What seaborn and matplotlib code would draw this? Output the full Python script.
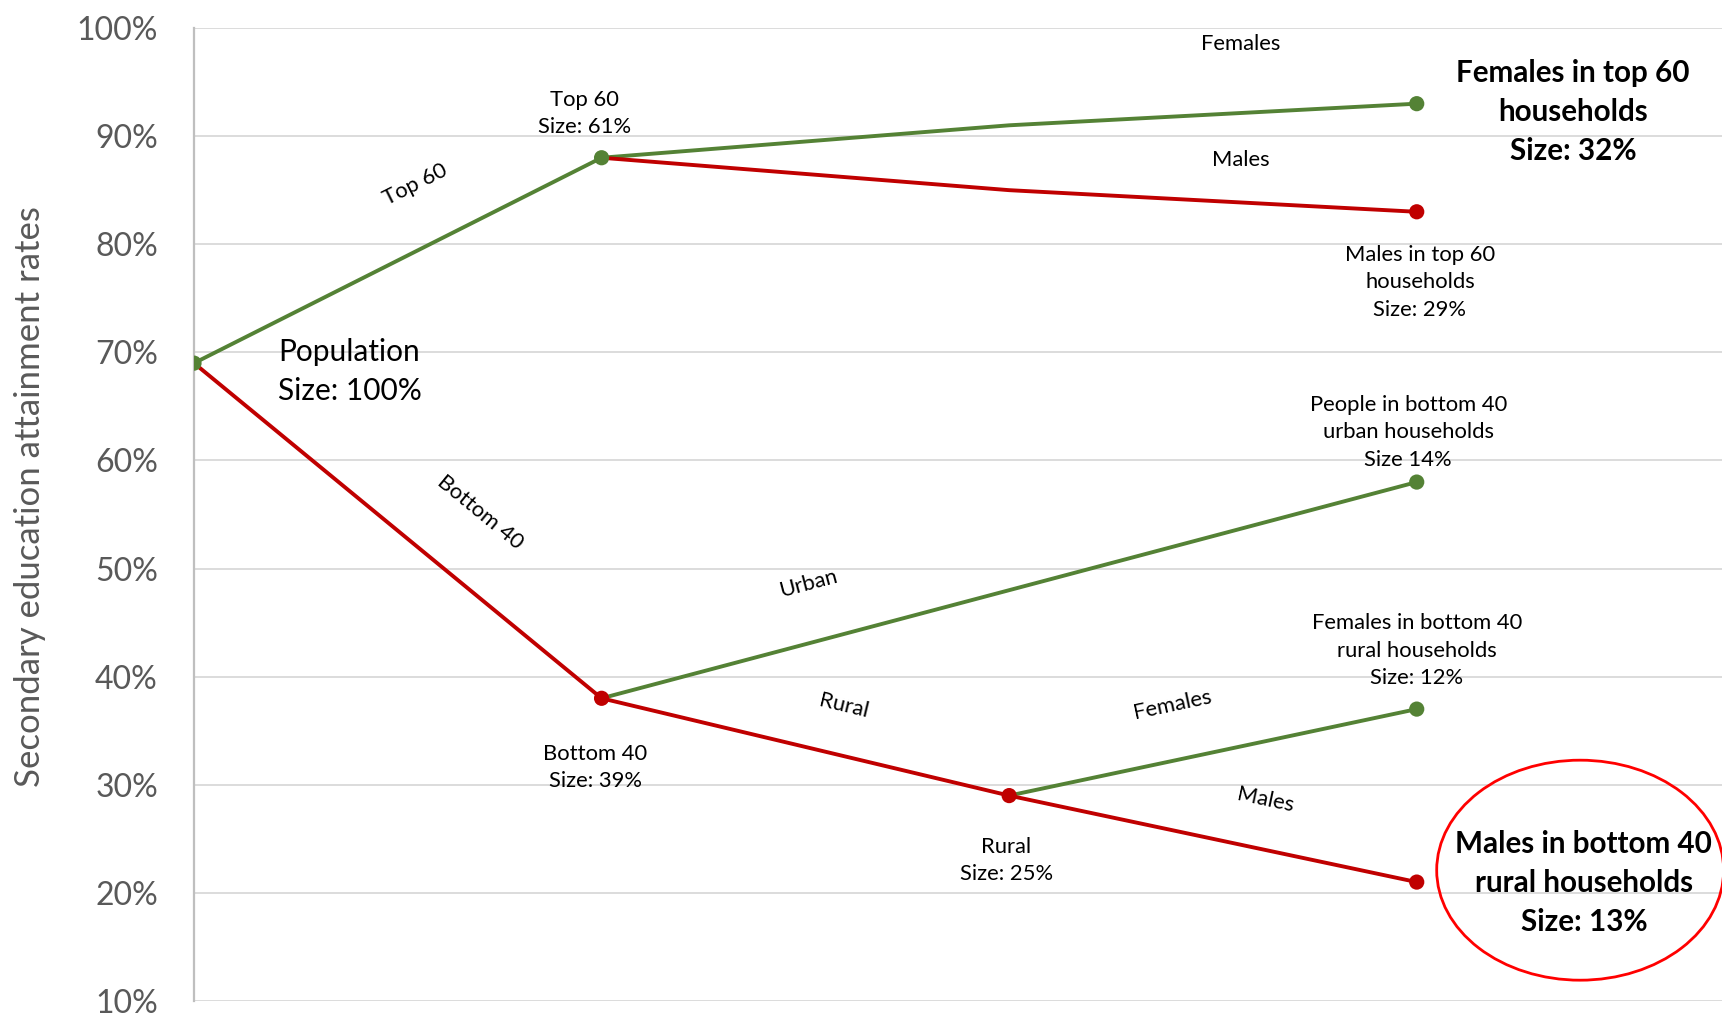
import matplotlib
matplotlib.use("Agg")
import matplotlib.pyplot as plt
from matplotlib.patches import Ellipse
from matplotlib.ticker import PercentFormatter
import numpy as np
import pandas as pd
import seaborn as sns

# Branch segments of the attainment tree (stage on x, rate in % on y)
seg_names = ["Top 60", "Bottom 40", "Top 60 females", "Top 60 males",
             "Bottom 40 urban", "Bottom 40 rural", "Rural females", "Rural males"]
seg_x = [[0, 1], [0, 1], [1, 2, 3], [1, 2, 3], [1, 3], [1, 2], [2, 3], [2, 3]]
seg_y = [[69, 88], [69, 38], [88, 91, 93], [88, 85, 83], [38, 58], [38, 29], [29, 37], [29, 21]]
seg_kind = ["higher", "lower", "higher", "lower", "higher", "lower", "higher", "lower"]

# Tree nodes with markers
node_x = [0, 1, 1, 3, 3, 3, 2, 3, 3]
node_y = [69, 88, 38, 93, 83, 58, 29, 37, 21]
node_kind = ["higher", "higher", "lower", "higher", "lower", "higher", "lower", "higher", "lower"]

y_ticks = [10, 20, 30, 40, 50, 60, 70, 80, 90, 100]

palette = {"higher": "#548235", "lower": "#C00000"}

rows = []
for name, xs, ys, kind in zip(seg_names, seg_x, seg_y, seg_kind):
    for xv, yv in zip(xs, ys):
        rows.append({"segment": name, "stage": xv, "rate": yv, "kind": kind})
lines_df = pd.DataFrame(rows)
nodes_df = pd.DataFrame({"stage": node_x, "rate": node_y, "kind": node_kind})

sns.set_theme(style="white")
plt.rcParams["font.family"] = ["Lato", "DejaVu Sans"]

fig = plt.figure(figsize=(17.22, 10.13), dpi=100)
ax = fig.add_axes([194 / 1722, 12 / 1013, 1 - 194 / 1722, (1001 - 28) / 1013])

sns.lineplot(data=lines_df, x="stage", y="rate", hue="kind", units="segment",
             estimator=None, sort=False, palette=palette, linewidth=2.8,
             legend=False, ax=ax, zorder=2)
sns.scatterplot(data=nodes_df, x="stage", y="rate", hue="kind", palette=palette,
                s=120, edgecolor="none", legend=False, ax=ax, zorder=3)

ax.set_xlim(0, 3.749)
ax.set_ylim(10, 100)
ax.set_yticks(y_ticks)
ax.yaxis.set_major_formatter(PercentFormatter(decimals=0))
ax.set_xticks([])
ax.set_xlabel("")
ax.tick_params(axis="y", length=0, pad=26, labelsize=23, labelcolor="#595959")
ax.grid(axis="y", color="#D9D9D9", linewidth=1.3)
ax.set_axisbelow(True)
for side in ["top", "right", "bottom"]:
    ax.spines[side].set_visible(False)
ax.spines["left"].set_color("#BFBFBF")
ax.spines["left"].set_linewidth(1.6)
ax.set_ylabel("Secondary education attainment rates", fontsize=25, color="#595959")
ax.yaxis.set_label_coords(-0.097, 0.518)

small = dict(fontsize=15.8, color="black", ha="center", va="center", linespacing=1.47)

# Node labels
ax.text(0.958, 92.1, "Top 60\nSize: 61%", **small)
ax.text(0.985, 31.6, "Bottom 40\nSize: 39%", **small)
ax.text(1.993, 23.0, "Rural\nSize: 25%", **small)
ax.text(3.008, 76.5, "Males in top 60\nhouseholds\nSize: 29%", **small)
ax.text(2.979, 62.6, "People in bottom 40\nurban households\nSize 14%", **small)
ax.text(3.0, 42.4, "Females in bottom 40\nrural households\nSize: 12%", **small)
ax.text(2.569, 98.5, "Females", **small)
ax.text(2.569, 87.8, "Males", **small)
ax.text(0.207, 68.25, "Population\nSize: 100%", fontsize=21.5, color="black",
        ha="left", va="center", linespacing=1.5)

# Branch labels along the lines
ax.text(0.544, 85.5, "Top 60", rotation=26.7, **small)
ax.text(0.701, 55.2, "Bottom 40", rotation=-39.3, **small)
ax.text(1.507, 48.6, "Urban", rotation=14.8, **small)
ax.text(1.594, 37.3, "Rural", rotation=-13.5, **small)
ax.text(2.402, 37.4, "Females", rotation=12.0, **small)
ax.text(2.630, 28.6, "Males", rotation=-11.9, **small)

# Highlighted groups
bold = dict(fontsize=21.3, fontweight="bold", color="black", ha="center",
            va="center", linespacing=1.48)
ax.text(3.384, 92.2, "Females in top 60\nhouseholds\nSize: 32%", **bold)
ax.text(3.410, 20.9, "Males in bottom 40\nrural households\nSize: 13%", **bold)
ax.add_patch(Ellipse((3.401, 22.1), 0.704, 20.35, fill=False, edgecolor="#FF0000",
                     linewidth=2.0, clip_on=False, zorder=4))

fig.savefig("out.png", dpi=100)
